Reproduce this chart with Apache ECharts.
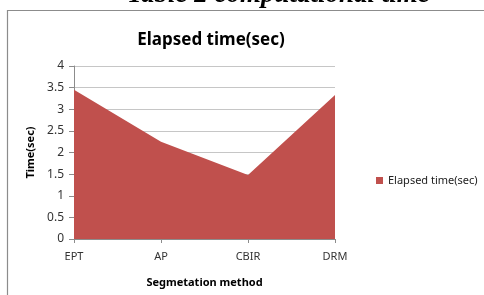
<!DOCTYPE html>
<html>
<head>
<meta charset="utf-8">
<script src="https://cdn.jsdelivr.net/npm/echarts@6/dist/echarts.min.js"></script>
<style>
html, body { margin: 0; padding: 0; background: #fff; }
#main { width: 484px; height: 295px; }
</style>
</head>
<body>
<div id="main"></div>
<script>
var categories = ['EPT', 'AP', 'CBIR', 'DRM'];
var elapsed = [3.45, 2.25, 1.48, 3.33];
var yTicks = [0, 0.5, 1, 1.5, 2, 2.5, 3, 3.5, 4];

var labelFont = '"Noto Sans", sans-serif';
var myChart = echarts.init(document.getElementById('main'));

myChart.setOption({
	animation : false,
	title : {
		text : 'Elapsed time(sec)',
		left : 206,
		top : 27,
		textAlign : 'center',
		textStyle : {
			fontFamily : labelFont,
			fontSize : 17,
			fontWeight : 'bold',
			color : '#000'
		}
	},
	graphic : [ {
		type : 'text',
		left : 127,
		top : -18,
		style : {
			text : 'Table 2 computational time',
			font : 'italic bold 27px "Liberation Serif", serif',
			fill : '#000'
		}
	}, {
		type : 'polyline',
		shape : { points : [ [ 7.5, 295 ], [ 7.5, 10.5 ], [ 484, 10.5 ] ] },
		style : { stroke : '#8c8c8c', lineWidth : 1.2, fill : null }
	} ],
	legend : {
		data : [ { name : 'Elapsed time(sec)', icon : 'rect' } ],
		orient : 'vertical',
		left : 371,
		top : 170,
		itemWidth : 7,
		itemHeight : 7,
		itemGap : 4,
		textStyle : {
			fontFamily : labelFont,
			fontSize : 11,
			color : '#222'
		}
	},
	grid : {
		left : 74,
		right : 149,
		top : 66,
		bottom : 56
	},
	xAxis : {
		type : 'category',
		boundaryGap : false,
		data : categories,
		name : 'Segmetation method',
		nameLocation : 'middle',
		nameGap : 38,
		nameTextStyle : {
			fontFamily : labelFont,
			fontSize : 11,
			fontWeight : 'bold',
			color : '#000'
		},
		axisLine : { lineStyle : { color : '#8c8c8c' } },
		axisTick : { show : true, length : 4, lineStyle : { color : '#8c8c8c' } },
		axisLabel : {
			margin : 12,
			fontFamily : labelFont,
			fontSize : 11,
			color : '#333'
		}
	},
	yAxis : {
		type : 'value',
		min : 0,
		max : 4,
		interval : 0.5,
		name : 'Time(sec)',
		nameLocation : 'middle',
		nameGap : 38,
		nameTextStyle : {
			fontFamily : labelFont,
			fontSize : 11,
			fontWeight : 'bold',
			color : '#000'
		},
		axisLine : { show : true, lineStyle : { color : '#8c8c8c' } },
		axisTick : { show : true, inside : false, length : 5, lineStyle : { color : '#8c8c8c' } },
		splitLine : { lineStyle : { color : '#c6c6c6' } },
		axisLabel : {
			margin : 10,
			fontFamily : labelFont,
			fontSize : 12,
			color : '#333',
			formatter : function(v) {
				return yTicks.indexOf(v) >= 0 ? String(v) : '';
			}
		}
	},
	series : [ {
		name : 'Elapsed time(sec)',
		type : 'line',
		data : elapsed,
		symbol : 'none',
		lineStyle : { width : 0 },
		areaStyle : { color : '#C0504D', opacity : 1 },
		itemStyle : { color : '#C0504D' }
	} ]
});
</script>
</body>
</html>
